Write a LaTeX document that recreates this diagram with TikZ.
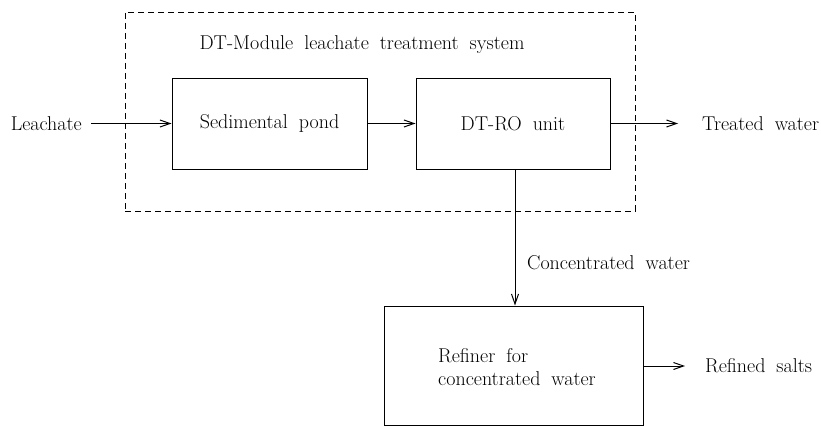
\documentclass[tikz,border=0pt]{standalone}
\usetikzlibrary{arrows.meta}
\newcommand{\labelsize}{\fontsize{20}{23}\selectfont\spaceskip=11pt plus 1pt minus 1pt\relax}
\tikzset{
  unit/.style={draw, line width=1pt, inner sep=0pt},
  lbl/.style={font=\labelsize, inner sep=0pt},
  flow/.style={line width=1pt, -{Straight Barb[length=10pt,width=7pt,line width=1pt]}},
  frame/.style={draw, line width=0.9pt, dash pattern=on 6pt off 4pt, inner sep=0pt}
}
\begin{document}
\begin{tikzpicture}[x=1pt,y=-1pt]
\useasboundingbox (0,0) rectangle (821,428);
% system boundary
\node[frame, minimum width=510pt, minimum height=199pt] (sys) at (380,111.5) {};
\node[lbl] (title) at (362,45) {DT-Module leachate treatment system};
% process units
\node[unit, minimum width=195pt, minimum height=91pt, lbl] (sed) at (269.5,123.5) {Sedimental pond};
\node[unit, minimum width=194pt, minimum height=91pt, lbl] (ro) at (513,123.5) {DT-RO unit};
\node[unit, minimum width=259pt, minimum height=119pt] (ref) at (513.5,365.5) {};
\node[lbl, align=left] (reftxt) at (517,367) {Refiner for\\concentrated water};
% inputs and outputs
\node[lbl, anchor=east] (in) at (82,123.5) {Leachate};
\coordinate (inA) at (91,123.5);
\coordinate (outT) at (678,123.5);
\node[lbl, anchor=west] (treated) at (702,123.5) {Treated water};
\coordinate (outS) at (685,366);
\node[lbl, anchor=west] (salts) at (705,366) {Refined salts};
\node[lbl, anchor=west] (conc) at (527,263) {Concentrated water};
% flows
\draw[flow] (inA) -- (sed.west);
\draw[flow] (sed.east) -- (ro.west);
\draw[flow] (ro.east) -- (outT);
\draw[flow] (ro.south -| 515,0) -- (ref.north -| 515,0);
\draw[flow] (ref.east |- outS) -- (outS);
\end{tikzpicture}
\end{document}
